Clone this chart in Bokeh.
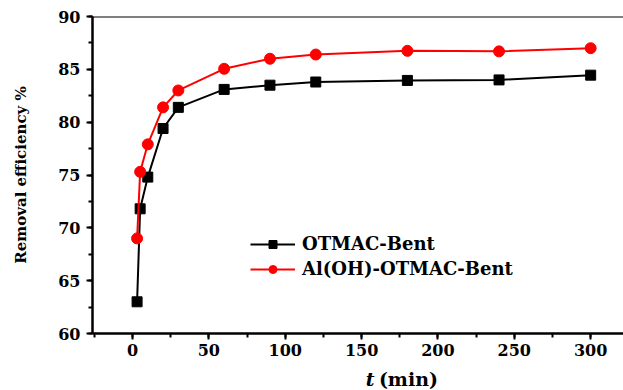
from bokeh.plotting import figure
from bokeh.layouts import column
from bokeh.models import Range1d, SingleIntervalTicker, Span, Label, Legend, LegendItem
from bokeh.embed import file_html
from bokeh.resources import INLINE

# ---- data ----
t_min = [3, 5, 10, 20, 30, 60, 90, 120, 180, 240, 300]
otmac_bent = [63.0, 71.8, 74.8, 79.4, 81.4, 83.1, 83.5, 83.8, 83.95, 84.0, 84.45]
aloh_otmac_bent = [69.0, 75.3, 77.9, 81.4, 83.0, 85.05, 86.0, 86.4, 86.75, 86.7, 87.0]
series_names = ["OTMAC-Bent", "Al(OH)-OTMAC-Bent"]
y_label = "Removal efficiency %"
x_label_var = "t"
x_label_unit = "(min)"

FONT = "DejaVu Serif"

p = figure(
    output_backend="svg", toolbar_location=None,
    frame_width=531, frame_height=317,
    min_border_left=92, min_border_right=0, min_border_top=16, min_border_bottom=29,
    x_range=Range1d(-26.2, 321.5), y_range=Range1d(60, 90),
    background_fill_color="white", border_fill_color="white",
)
p.outline_line_color = None
p.xgrid.visible = False
p.ygrid.visible = False

p.xaxis.ticker = SingleIntervalTicker(interval=50, num_minor_ticks=2)
p.yaxis.ticker = SingleIntervalTicker(interval=5, num_minor_ticks=2)

for ax in (p.xaxis, p.yaxis):
    ax.axis_line_width = 2.5
    ax.axis_line_color = "black"
    ax.major_tick_line_width = 2
    ax.minor_tick_line_width = 2
    ax.major_tick_line_color = "black"
    ax.minor_tick_line_color = "black"
    ax.major_tick_in = 0
    ax.major_tick_out = 6
    ax.minor_tick_in = 0
    ax.minor_tick_out = 4
    ax.major_label_text_font = FONT
    ax.major_label_text_font_style = "bold"
    ax.major_label_text_font_size = "16px"
    ax.major_label_text_color = "black"

p.xaxis.major_label_standoff = 4
p.yaxis.major_label_standoff = 6
p.yaxis.axis_label = y_label
p.yaxis.axis_label_text_font = FONT
p.yaxis.axis_label_text_font_style = "bold"
p.yaxis.axis_label_text_font_size = "15px"
p.yaxis.axis_label_text_color = "black"
p.yaxis.axis_label_standoff = 25

# top frame line
p.add_layout(Span(location=90, dimension="width", line_color="black", line_width=2))

r1 = p.line(t_min, otmac_bent, line_color="black", line_width=2)
m1 = p.scatter(t_min, otmac_bent, marker="square", size=10, fill_color="black", line_color="black")
r2 = p.line(t_min, aloh_otmac_bent, line_color="red", line_width=2)
m2 = p.scatter(t_min, aloh_otmac_bent, marker="circle", size=11, fill_color="red", line_color="red")

legend = Legend(
    items=[LegendItem(label=series_names[0], renderers=[r1, m1]),
           LegendItem(label=series_names[1], renderers=[r2, m2])],
    location=(158, 54), padding=0, margin=0, spacing=4,
    glyph_width=45, glyph_height=20, label_height=20, label_standoff=7,
    border_line_color=None, background_fill_alpha=0,
    label_text_font=FONT, label_text_font_style="bold", label_text_font_size="18px",
    label_text_color="black",
)
p.add_layout(legend, "center")

# x-axis title strip (italic variable + unit)
lab = figure(
    output_backend="svg", toolbar_location=None,
    width=623, height=28, min_border=0,
    x_range=Range1d(0, 623), y_range=Range1d(0, 28),
    background_fill_color="white", border_fill_color="white",
)
lab.outline_line_color = None
lab.axis.visible = False
lab.grid.visible = False
lab.add_layout(Label(x=331, y=12, text=x_label_var, text_align="right", text_baseline="middle",
                     text_font=FONT, text_font_style="bold italic", text_font_size="19px",
                     text_color="black"))
lab.add_layout(Label(x=336, y=12, text=x_label_unit, text_align="left", text_baseline="middle",
                     text_font=FONT, text_font_style="bold", text_font_size="19px",
                     text_color="black"))

layout = column(p, lab, spacing=0)
open("out.html", "w").write(file_html(layout, INLINE))
